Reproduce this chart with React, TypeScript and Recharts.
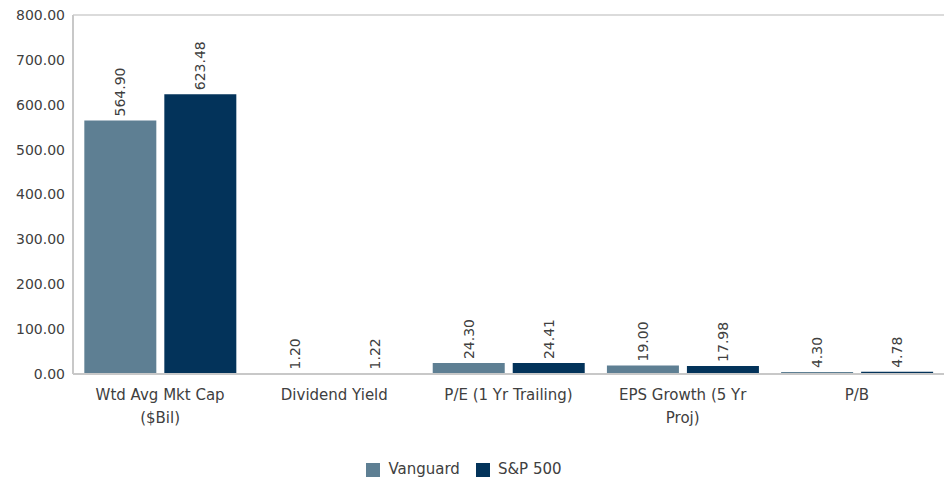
import React from "react";
import { BarChart, Bar, XAxis, YAxis, CartesianGrid, Legend, LabelList, Text } from "recharts";

const categories = ["Wtd Avg Mkt Cap ($Bil)", "Dividend Yield", "P/E (1 Yr Trailing)", "EPS Growth (5 Yr Proj)", "P/B"];
const vanguard = [564.9, 1.2, 24.3, 19.0, 4.3];
const sp500 = [623.48, 1.22, 24.41, 17.98, 4.78];
const yTicks = [0, 100, 200, 300, 400, 500, 600, 700, 800];

const data = categories.map((c, i) => ({ name: c, Vanguard: vanguard[i], SP: sp500[i] }));

const FONT = "'DejaVu Sans', sans-serif";
const TEXT = "#404040";

const RotLabel = (props: any) => {
  const { x, y, width, value } = props;
  const cx = x + width / 2;
  const ty = y - 4;
  return (
    <text
      x={cx}
      y={ty}
      transform={`rotate(-90 ${cx} ${ty})`}
      textAnchor="start"
      dominantBaseline="central"
      fontSize={14}
      fontFamily={FONT}
      fill={TEXT}
    >
      {Number(value).toFixed(2)}
    </text>
  );
};

const XTick = (props: any) => {
  const { x, y, payload } = props;
  return (
    <Text
      x={x}
      y={y + 7}
      width={148}
      textAnchor="middle"
      verticalAnchor="start"
      fontSize={15}
      fontFamily={FONT}
      fill={TEXT}
      lineHeight={23}
    >
      {payload.value}
    </Text>
  );
};

export default function App() {
  return (
    <div style={{ position: "absolute", left: 0, top: 0, width: 949, height: 484, background: "#fff" }}>
      <BarChart
        width={949}
        height={484}
        data={data}
        margin={{ top: 15, right: 5, left: 0, bottom: 6 }}
        barCategoryGap="6.5%"
        barGap={8}
      >
        <CartesianGrid vertical={false} stroke="#cfcfcf" strokeWidth={1.5} />
        <XAxis
          dataKey="name"
          tick={<XTick />}
          tickLine={false}
          axisLine={{ stroke: "#c8c8c8", strokeWidth: 2 }}
          height={86}
          interval={0}
        />
        <YAxis
          yAxisId="l"
          domain={[0, 800]}
          ticks={yTicks}
          tickFormatter={(v: number) => v.toFixed(2)}
          tick={{ fontSize: 14, fontFamily: FONT, fill: TEXT }}
          tickLine={false}
          axisLine={{ stroke: "#c8c8c8", strokeWidth: 2 }}
          width={73}
          interval={0}
        />
        <YAxis
          yAxisId="r"
          orientation="right"
          domain={[0, 800]}
          tick={false}
          tickLine={false}
          axisLine={{ stroke: "#c8c8c8", strokeWidth: 2 }}
          width={0}
        />
        <Legend
          verticalAlign="bottom"
          iconType="square"
          iconSize={14}
          itemSorter={(item: any) => (item.value === "Vanguard" ? 0 : 1)}
          wrapperStyle={{ fontFamily: FONT, fontSize: 15, color: TEXT }}
          formatter={(v: string) => <span style={{ color: TEXT, marginLeft: 4, marginRight: 6 }}>{v}</span>}
        />
        <Bar yAxisId="l" dataKey="Vanguard" name="Vanguard" fill="#5E7F93" isAnimationActive={false}>
          <LabelList dataKey="Vanguard" content={<RotLabel />} />
        </Bar>
        <Bar yAxisId="l" dataKey="SP" name="S&P 500" fill="#03335A" isAnimationActive={false}>
          <LabelList dataKey="SP" content={<RotLabel />} />
        </Bar>
      </BarChart>
    </div>
  );
}
